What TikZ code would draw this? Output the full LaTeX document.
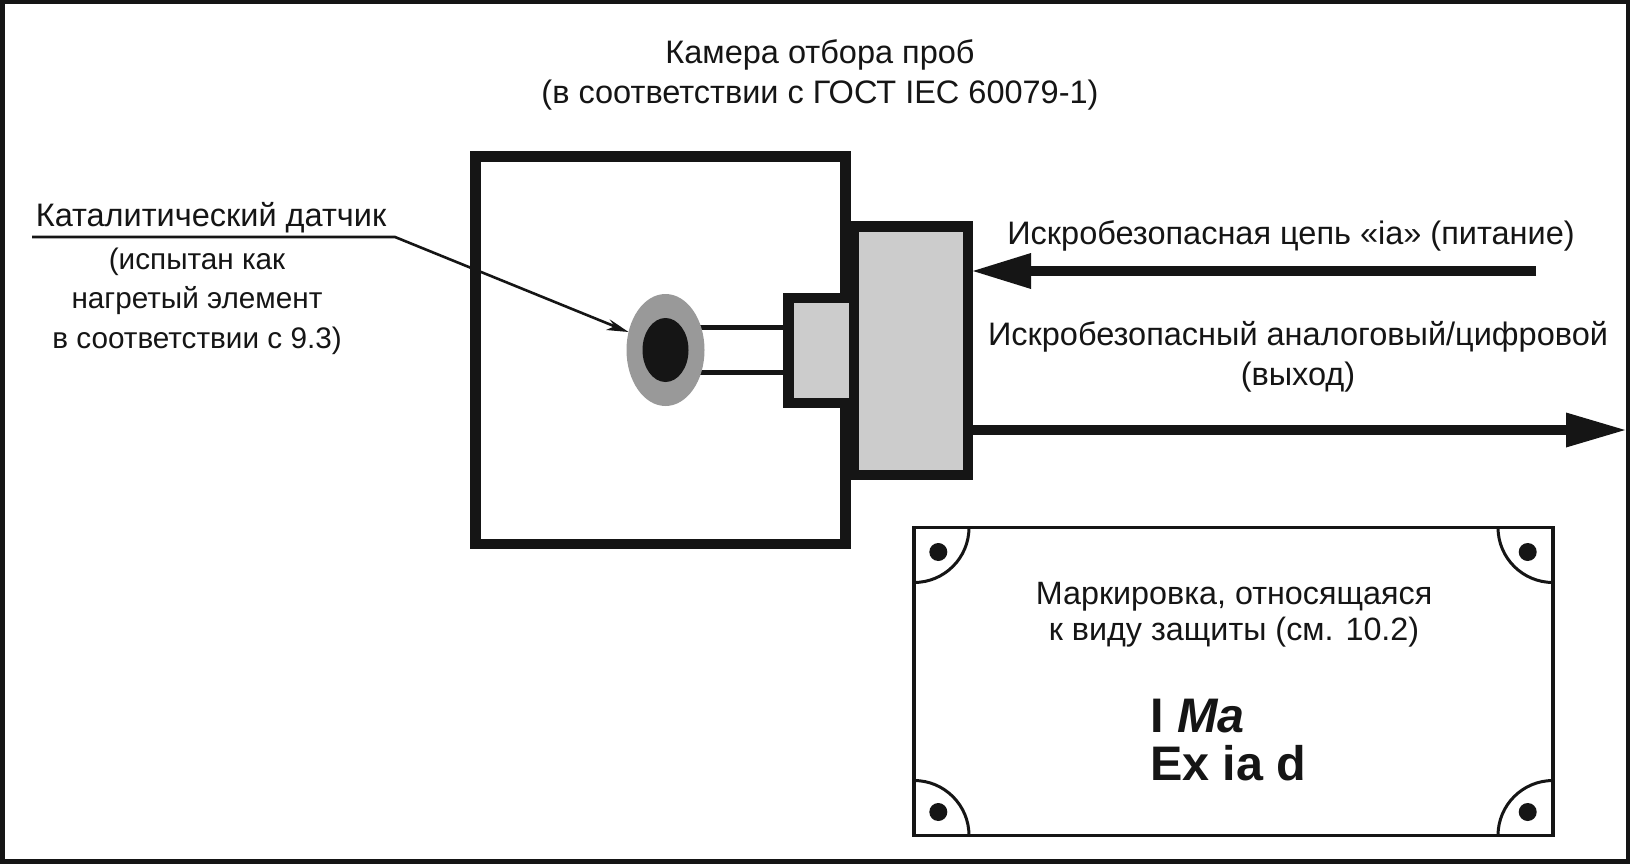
\documentclass[tikz,border=0pt]{standalone}
\usepackage{fontspec}
\usetikzlibrary{shapes.geometric,calc}
\setmainfont{Liberation Sans}
\definecolor{ink}{HTML}{151515}
\definecolor{lgray}{HTML}{CCCCCC}
\definecolor{mgray}{HTML}{999999}
\tikzset{
 boxn/.style={draw=ink,line width=10.5pt,inner sep=0pt,outer sep=0pt},
 txt/.style={inner sep=0pt,text=ink,font=\fontsize{32.5}{40.5}\selectfont,align=center},
 bigtxt/.style={inner sep=0pt,text=ink,font=\fontsize{48.5}{48}\selectfont\bfseries,align=left},
 wire/.style={draw=ink,line width=5.5pt},
 shaft/.style={draw=ink,line width=10pt},
 headfill/.style={fill=ink,draw=none},
 thinl/.style={draw=ink,line width=2.6pt},
 plate/.style={draw=ink,line width=3.5pt,inner sep=0pt,outer sep=0pt},
 cornerarc/.style={draw=ink,line width=3pt},
 dotc/.style={fill=ink,draw=none,circle,minimum size=18pt,inner sep=0pt}
}
\begin{document}
\begin{tikzpicture}[x=1pt,y=-1pt]
\useasboundingbox (0,0) rectangle (1630,864);
\fill[white] (0,0) rectangle (1630,864);
\draw[draw=ink,line width=5pt] (2,1.5) rectangle (1628,861);
% chamber
\node[boxn,fill=white,minimum width=370pt,minimum height=387.5pt] (chamber) at (660.25,350.25) {};
% wires
\coordinate (w1a) at (700,327.5); \coordinate (w1b) at (788,327.5);
\coordinate (w2a) at (700,372.7); \coordinate (w2b) at (788,372.7);
\draw[wire] (w1a) -- (w1b);
\draw[wire] (w2a) -- (w2b);
% body
\node[boxn,fill=lgray,minimum width=114.5pt,minimum height=248.5pt] (body) at (910.5,350.5) {};
\node[boxn,fill=lgray,minimum width=65.5pt,minimum height=105pt] (probe) at (821,350.5) {};
\fill[ink] (849,221) rectangle (858.6,480);
% sensor
\node[ellipse,fill=mgray,minimum width=78pt,minimum height=112pt,inner sep=0pt,outer sep=0pt] (halo) at (665.5,350) {};
\node[ellipse,fill=ink,minimum width=46pt,minimum height=64pt,inner sep=0pt,outer sep=0pt] (core) at (665.5,350) {};
% labels
\node[txt] (title) at (820,75) {Камера отбора проб\\(в соответствии с ГОСТ IEC 60079-1)};
\node[txt] (cat) at (211,218) {Каталитический датчик};
\node[txt,font=\fontsize{29.7}{39.5}\selectfont] (catnote) at (197,301) {(испытан как\\нагретый элемент\\в соответствии с 9.3)};
\node[txt] (ia) at (1291,236) {Искробезопасная цепь «ia» (питание)};
\node[txt] (out) at (1298,357) {Искробезопасный аналоговый/цифровой\\(выход)};
% leader
\coordinate (u0) at (32,237); \coordinate (u1) at (395,237);
\coordinate (tip) at (628.6,332);
\draw[thinl] (u0) -- (u1) -- ($(u1)!0.96!(tip)$);
\fill[ink] (tip) -- ++(-19,-12.7) -- ++(5,7) -- ++(-8.6,3.7) -- cycle;
% power arrows
\coordinate (inR) at (1536,271); \coordinate (inB) at (1031,271); \coordinate (inT) at (973,271);
\draw[shaft] (inR) -- (inB);
\fill[headfill] (inT) -- ($(inB)+(0,-18)$) -- ($(inB)+(0,18)$) -- cycle;
\coordinate (outL) at (973,430); \coordinate (outB) at (1566,430); \coordinate (outT) at (1625,430);
\draw[shaft] (outL) -- (outB);
\fill[headfill] (outT) -- ($(outB)+(0,-17.5)$) -- ($(outB)+(0,17.5)$) -- cycle;
% plate
\node[plate,minimum width=639pt,minimum height=308pt] (plt) at (1233.5,681.5) {};
\draw[cornerarc] ($(plt.north west)+(55,0)$) arc[start angle=0,end angle=-90,radius=55pt];
\draw[cornerarc] ($(plt.north east)+(-55,0)$) arc[start angle=180,end angle=270,radius=55pt];
\draw[cornerarc] ($(plt.south west)+(55,0)$) arc[start angle=0,end angle=90,radius=55pt];
\draw[cornerarc] ($(plt.south east)+(-55,0)$) arc[start angle=180,end angle=90,radius=55pt];
\node[dotc] (d1) at (938.3,552) {};
\node[dotc] (d2) at (1527.7,552) {};
\node[dotc] (d3) at (938.3,812) {};
\node[dotc] (d4) at (1527.7,812) {};
\node[txt,font=\fontsize{32.3}{36}\selectfont] (mark) at (1234,615) {Маркировка, относящаяся\\к виду защиты (см. 10.2)};
\node[bigtxt,anchor=west] (code) at (1150,740) {I \textit{Ma}\\Ex ia d};
\end{tikzpicture}
\end{document}
